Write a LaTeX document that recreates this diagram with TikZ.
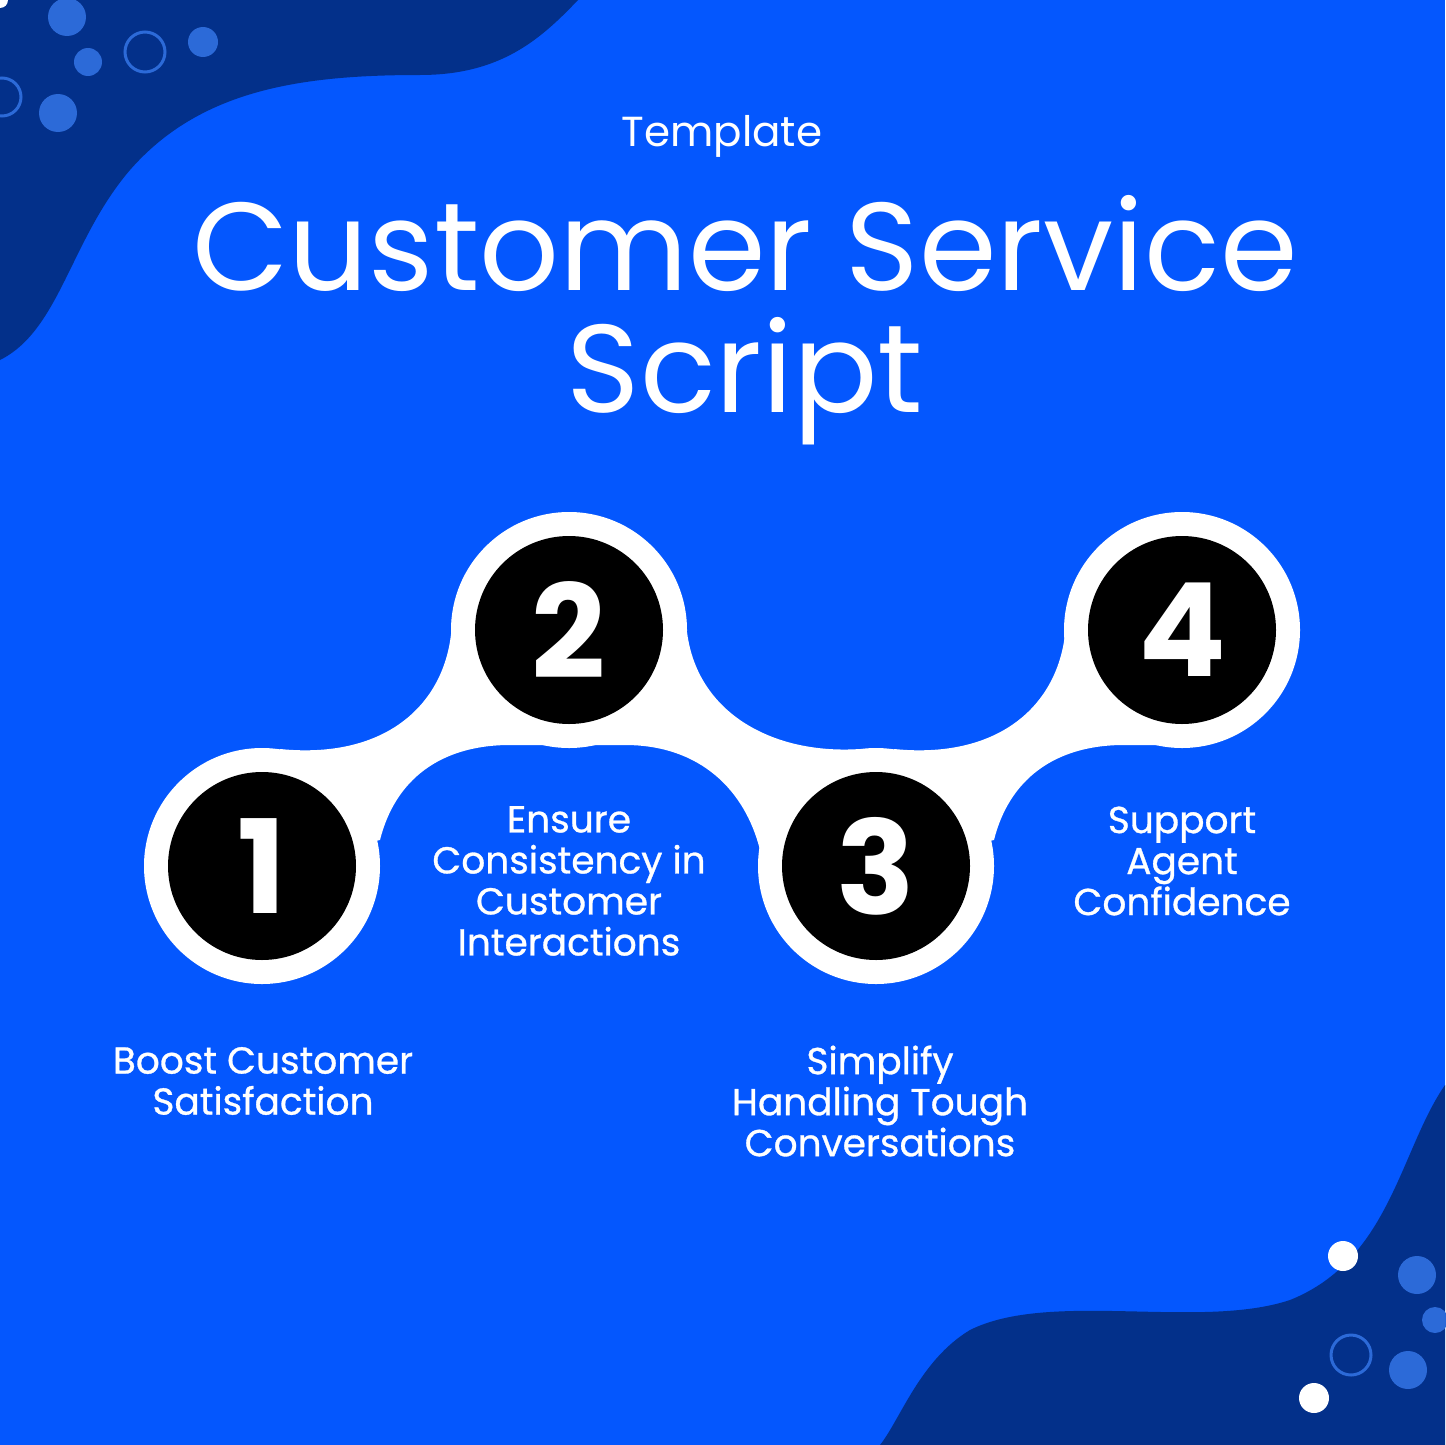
\documentclass[tikz,border=0pt]{standalone}
\usepackage{fontspec}
\setmainfont{Poppins}
\newfontfamily\lblfont{Poppins}[FakeBold=0.8]
\begin{document}
\begin{tikzpicture}[x=1pt,y=-1pt,
  lbl/.style={text=white,align=center,font=\lblfont\fontsize{37.5}{41}\selectfont},
  num/.style={circle,fill=black,minimum size=188pt,inner sep=0pt,text=white,font=\fontsize{130}{130}\selectfont\bfseries},
  ring/.style={circle,fill=white,minimum size=236pt,inner sep=0pt},
  deco/.style={fill=lightb},
  decoring/.style={draw=lightb,line width=3pt}]
\definecolor{bg}{HTML}{0457FE}
\definecolor{dark}{HTML}{03308A}
\definecolor{lightb}{HTML}{2C6AD8}
\fill[bg] (0,0) rectangle (1445,1445);
\useasboundingbox (0,0) rectangle (1445,1445);
% top-left blob
\fill[dark] (0,0) -- (578,0) .. controls (540,40) and (500,75) .. (420,75)
  .. controls (300,75) and (200,90) .. (130,170)
  .. controls (70,240) and (60,330) .. (0,360) -- cycle;
% bottom-right blob
\fill[dark] (1445,1085) .. controls (1400,1150) and (1390,1260) .. (1290,1300)
  .. controls (1200,1330) and (1050,1290) .. (970,1330)
  .. controls (920,1360) and (900,1420) .. (880,1445) -- (1445,1445) -- cycle;
% decorations
\fill[deco] (67,17) circle (19);
\fill[deco] (88,62) circle (14);
\fill[deco] (58,113) circle (19);
\fill[deco] (203,42) circle (15);
\draw[decoring] (145,52) circle (20);
\draw[decoring] (2,97) circle (19);
\fill[deco] (1417,1275) circle (19);
\fill[deco] (1435,1320) circle (13);
\fill[deco] (1408,1370) circle (19);
\draw[decoring] (1351,1355) circle (20);
\fill[white] (1343,1256) circle (15);
\fill[white] (1314,1398) circle (15);
\fill[white] (0,0) circle (8);
% titles
\node[text=white,font=\fontsize{42}{42}\selectfont] (tpl) at (722,136) {Template};
\node[text=white,font=\fontsize{125}{122}\selectfont,align=center] (ttl) at (745,320) {Customer Service\\Script};
% chain
\coordinate (p1) at (262,866);
\coordinate (p2) at (569,630);
\coordinate (p3) at (876,866);
\coordinate (p4) at (1182,630);
\foreach \s in {0,614}{
\begin{scope}[xshift=\s]
\fill[white] (280,749) .. controls (390,760) and (450,700) .. (452,620) -- (569,630)
  -- (569,745) -- (510,745) .. controls (440,745) and (395,780) .. (380,840) -- (262,866) -- cycle;
\fill[white] (500,690) rectangle (590,745);
\end{scope}}
\fill[white] (560,690) rectangle (640,745);
\fill[white] (686,620) .. controls (690,710) and (770,755) .. (860,749) -- (876,866)
  -- (760,850) .. controls (745,790) and (700,745) .. (625,745) -- (569,745) -- (569,630) -- cycle;
\node[ring] (r1) at (p1) {};
\node[ring] (r2) at (p2) {};
\node[ring] (r3) at (p3) {};
\node[ring] (r4) at (p4) {};
\node[num] (n1) at (p1) {1};
\node[num] (n2) at (p2) {2};
\node[num] (n3) at (p3) {3};
\node[num] (n4) at (p4) {4};
\node[lbl] (l1) at (263,1081) {Boost Customer\\Satisfaction};
\node[lbl] (l2) at (569,881) {Ensure\\Consistency in\\Customer\\Interactions};
\node[lbl] (l3) at (880,1101) {Simplify\\Handling Tough\\Conversations};
\node[lbl] (l4) at (1182,861) {Support\\Agent\\Confidence};
\end{tikzpicture}
\end{document}
